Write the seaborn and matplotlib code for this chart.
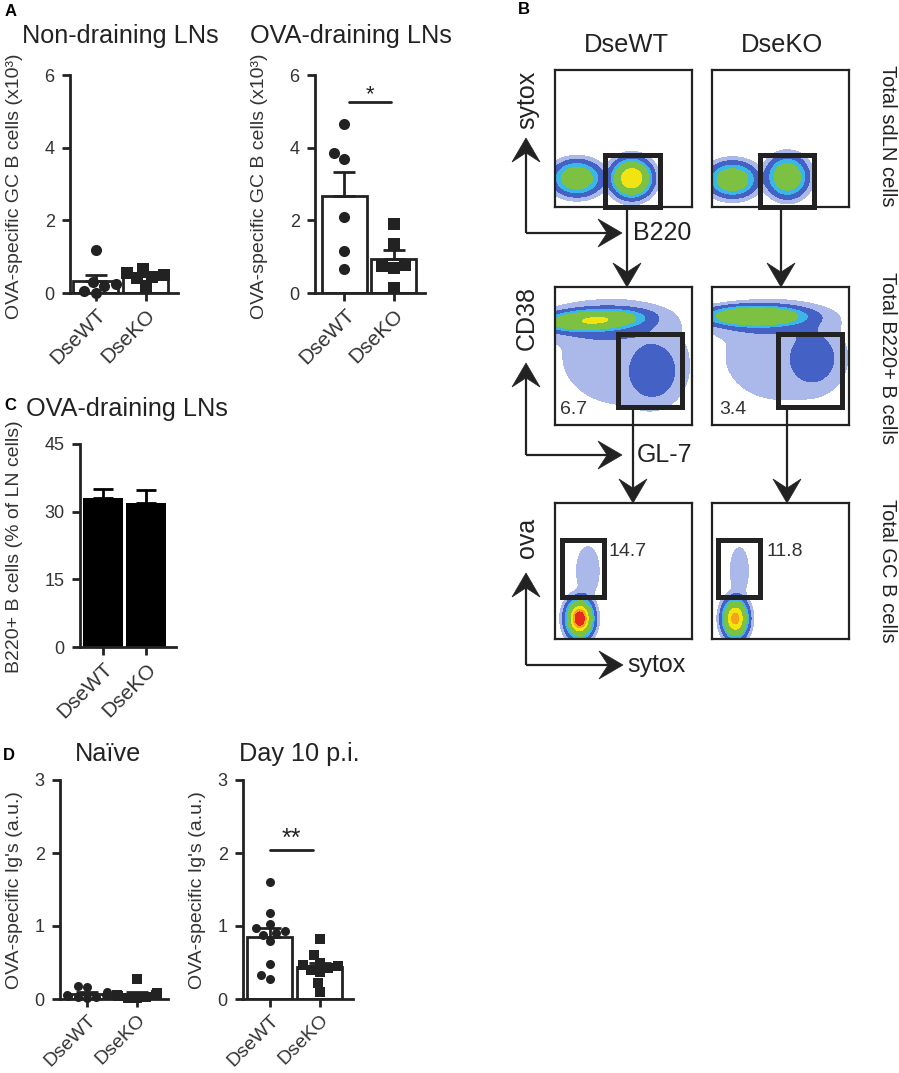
import numpy as np
import pandas as pd
import matplotlib
matplotlib.use("Agg")
import matplotlib.pyplot as plt
from matplotlib.patches import Rectangle, Polygon
import seaborn as sns

sns.set_theme(style="ticks")
plt.rcParams['font.family'] = ['Liberation Sans', 'DejaVu Sans']
INK = '#222222'

genotypes = ["DseWT", "DseKO"]

# A: OVA-specific GC B cells (x10^3)
nondrain_wt = [1.18, 0.30, 0.25, 0.20, 0.05, 0.00]
nondrain_ko = [0.65, 0.55, 0.50, 0.45, 0.40, 0.20]
drain_wt = [4.65, 3.85, 3.70, 2.10, 1.15, 0.65]
drain_ko = [1.90, 1.35, 0.78, 0.75, 0.70, 0.15]

# C: B220+ B cells (% of LN cells), mean and SEM
b220_mean = [33.0, 32.0]
b220_sem = [2.0, 2.7]

# D: OVA-specific Ig's (a.u.)
naive_wt = [0.18, 0.17, 0.10, 0.06, 0.05, 0.05, 0.04, 0.03, 0.03, 0.02]
naive_ko = [0.28, 0.08, 0.06, 0.05, 0.05, 0.04, 0.03, 0.02, 0.01]
day10_wt = [1.60, 1.18, 1.03, 0.97, 0.93, 0.90, 0.88, 0.80, 0.48, 0.33, 0.28]
day10_ko = [0.82, 0.60, 0.50, 0.47, 0.45, 0.43, 0.40, 0.37, 0.22, 0.10]

# B: flow cytometry populations (x, y, sd_x, sd_y, tilt, peak) in plot units
pops_b220_wt = [(0.16, 0.21, 0.12, 0.085, 0, 0.60), (0.56, 0.21, 0.10, 0.095, 0, 0.90)]
pops_b220_ko = [(0.15, 0.20, 0.12, 0.085, 0, 0.60), (0.55, 0.22, 0.10, 0.10, 0, 0.62)]
pops_gl7_wt = [(0.27, 0.76, 0.25, 0.05, 3, 0.60), (0.33, 0.74, 0.30, 0.09, 0, 0.15),
               (0.50, 0.50, 0.38, 0.30, 0, 0.07), (0.72, 0.38, 0.13, 0.15, 0, 0.15)]
pops_gl7_ko = [(0.31, 0.79, 0.25, 0.05, 0, 0.60), (0.40, 0.76, 0.30, 0.08, 0, 0.14),
               (0.50, 0.50, 0.38, 0.30, 0, 0.06), (0.74, 0.48, 0.13, 0.14, 0, 0.15)]
pops_ova_wt = [(0.18, 0.15, 0.07, 0.10, 0, 1.00), (0.24, 0.50, 0.06, 0.13, 0, 0.10)]
pops_ova_ko = [(0.17, 0.15, 0.065, 0.10, 0, 0.92), (0.20, 0.50, 0.05, 0.13, 0, 0.09)]

# gates (x0, y0, x1, y1) and gate frequencies
gates_b220 = [(0.365, 0.0, 0.766, 0.38), (0.35, 0.0, 0.745, 0.38)]
gates_gl7 = [(0.46, 0.13, 0.93, 0.66), (0.48, 0.13, 0.95, 0.66)]
gates_ova = [(0.05, 0.31, 0.36, 0.73), (0.045, 0.31, 0.35, 0.73)]
pct_gl7 = ["6.7", "3.4"]
pct_ova = ["14.7", "11.8"]

DENS_LEVELS = [0.04, 0.13, 0.30, 0.45, 0.78, 0.90, 0.96, 5]
DENS_COLORS = ['#aab8ea', '#4461c6', '#3cb6e6', '#7cc142', '#f2e313', '#f7a21b', '#e8291c']

W, H = 899, 1073
fig = plt.figure(figsize=(W / 100, H / 100), dpi=100)


def px_axes(left, top, right, bottom):
    return fig.add_axes([left / W, 1 - bottom / H, (right - left) / W, (bottom - top) / H])


def style_axis(ax, ymax, yticks, xlim, xsize=15):
    ax.set_ylim(0, ymax)
    ax.set_yticks(yticks)
    ax.set_xlim(*xlim)
    sns.despine(ax=ax)
    for s in ['left', 'bottom']:
        ax.spines[s].set_linewidth(2)
        ax.spines[s].set_color(INK)
    ax.tick_params(width=2, length=6, color=INK, labelcolor='#333333')
    ax.tick_params(axis='y', labelsize=13, pad=5)
    ax.tick_params(axis='x', labelsize=xsize, pad=3)
    ax.set_xticks([0, 1])
    ax.set_xticklabels(genotypes, rotation=45, ha='right', rotation_mode='anchor')
    ax.set_xlabel('')
    ax.set_ylabel('')


def dot_bar(ax, wt, ko, msize):
    df = pd.DataFrame({'genotype': ['DseWT'] * len(wt) + ['DseKO'] * len(ko),
                       'value': wt + ko})
    sns.barplot(data=df, x='genotype', y='value', order=genotypes, errorbar=None,
                color='white', edgecolor=INK, linewidth=2, width=0.9, saturation=1, ax=ax)
    stats = df.groupby('genotype')['value'].agg(['mean', 'sem']).reindex(genotypes)
    ax.errorbar([0, 1], stats['mean'], yerr=[np.zeros(2), stats['sem']], fmt='none',
                ecolor=INK, elinewidth=2, capsize=8, capthick=2, zorder=3)
    sns.swarmplot(data=df[df.genotype == 'DseWT'], x='genotype', y='value', order=genotypes,
                  marker='o', color=INK, size=msize, ax=ax, zorder=4, clip_on=False)
    sns.swarmplot(data=df[df.genotype == 'DseKO'], x='genotype', y='value', order=genotypes,
                  marker='s', color=INK, size=msize, ax=ax, zorder=4, clip_on=False)


# ---- panel A ----
ax = px_axes(70, 75, 178, 293)
dot_bar(ax, nondrain_wt, nondrain_ko, 8)
style_axis(ax, 6, [0, 2, 4, 6], (-0.51, 1.65))

ax = px_axes(315, 75, 425, 293)
dot_bar(ax, drain_wt, drain_ko, 8)
style_axis(ax, 6, [0, 2, 4, 6], (-0.60, 1.64))
ax.plot([0.09, 0.95], [5.26, 5.26], color=INK, lw=2)
ax.text(0.52, 5.30, '*', ha='center', va='baseline', fontsize=16, color=INK)

# ---- panel C ----
ax = px_axes(80, 444, 176, 647)
sns.barplot(x=genotypes, y=b220_mean, color='black', saturation=1, width=0.93,
            edgecolor='none', ax=ax)
ax.errorbar([0, 1], b220_mean, yerr=[np.zeros(2), b220_sem], fmt='none', ecolor='black',
            elinewidth=2, capsize=7, capthick=2, zorder=3)
style_axis(ax, 45, [0, 15, 30, 45], (-0.535, 1.70))

# ---- panel D ----
ax = px_axes(60, 780, 168, 999)
dot_bar(ax, naive_wt, naive_ko, 6.5)
style_axis(ax, 3, [0, 1, 2, 3], (-0.54, 1.62), xsize=14)

ax = px_axes(243, 780, 353, 999)
dot_bar(ax, day10_wt, day10_ko, 6.5)
style_axis(ax, 3, [0, 1, 2, 3], (-0.54, 1.66), xsize=14)
ax.plot([0.0, 0.86], [2.04, 2.04], color=INK, lw=2)
ax.text(0.43, 2.10, '**', ha='center', va='baseline', fontsize=18, color=INK)


# ---- panel B ----
def flow_box(rect, pops, gate, pct=None, pct_xy=None):
    ax = px_axes(*rect)
    gx, gy = np.meshgrid(np.linspace(0, 1, 300), np.linspace(0, 1, 300))
    dens = np.zeros_like(gx)
    for cx, cy, sx, sy, tilt, peak in pops:
        t = np.deg2rad(tilt)
        u = ((gx - cx) * np.cos(t) + (gy - cy) * np.sin(t)) / sx
        v = (-(gx - cx) * np.sin(t) + (gy - cy) * np.cos(t)) / sy
        dens += peak * np.exp(-((u ** 2 + v ** 2) / 2) ** 1.5)
    ax.contourf(gx, gy, dens, levels=DENS_LEVELS, colors=DENS_COLORS)
    ax.set_xlim(0, 1)
    ax.set_ylim(0, 1)
    ax.set_xticks([])
    ax.set_yticks([])
    for s in ax.spines.values():
        s.set_visible(True)
        s.set_linewidth(1.6)
        s.set_color(INK)
    x0, y0, x1, y1 = gate
    ax.add_patch(Rectangle((x0, y0), x1 - x0, y1 - y0, fill=False, lw=3.6, ec=INK,
                           clip_on=False, zorder=5, joinstyle='miter'))
    if pct is not None:
        ax.text(pct_xy[0], pct_xy[1], pct, fontsize=14, color='#333333',
                ha='left', va='center', zorder=6)


flow_box((555, 70, 692, 207), pops_b220_wt, gates_b220[0])
flow_box((712, 70, 849, 207), pops_b220_ko, gates_b220[1])
flow_box((555, 287, 692, 425), pops_gl7_wt, gates_gl7[0], pct_gl7[0], (0.04, 0.11))
flow_box((712, 287, 849, 425), pops_gl7_ko, gates_gl7[1], pct_gl7[1], (0.05, 0.11))
flow_box((555, 503, 692, 639), pops_ova_wt, gates_ova[0], pct_ova[0], (0.39, 0.64))
flow_box((712, 503, 849, 639), pops_ova_ko, gates_ova[1], pct_ova[1], (0.40, 0.64))

# overlay in pixel coordinates for arrows and labels
ov = fig.add_axes([0, 0, 1, 1], facecolor='none')
ov.set_xlim(0, W)
ov.set_ylim(H, 0)
ov.axis('off')


def arrow(x0, y0, x1, y1, head_len=24, head_w=28):
    d = np.array([x1 - x0, y1 - y0], float)
    u = d / np.hypot(*d)
    n = np.array([-u[1], u[0]])
    tip = np.array([x1, y1], float)
    back = tip - u * head_len
    notch = tip - u * head_len * 0.62
    ov.plot([x0, notch[0]], [y0, notch[1]], color=INK, lw=1.6, solid_capstyle='butt')
    ov.add_patch(Polygon([tip, back + n * head_w / 2, notch, back - n * head_w / 2],
                         closed=True, fc=INK, ec=INK, lw=0.5))


for x, y_top, y_end in [(627, 207, 287), (781, 207, 287), (633, 407, 503), (787, 407, 503)]:
    arrow(x, y_top, x, y_end)

for cy, ty, tx in [(233, 138, 622), (455, 363, 622), (665, 573, 623)]:
    arrow(526, cy, 526, ty)
    arrow(526, cy, tx, cy)

lab = dict(fontsize=18, color=INK)
ov.text(527, 100, 'sytox', rotation=90, ha='center', va='center', **lab)
ov.text(633, 233, 'B220', ha='left', va='center', **lab)
ov.text(527, 318, 'CD38', rotation=90, ha='center', va='center', **lab)
ov.text(637, 455, 'GL-7', ha='left', va='center', **lab)
ov.text(527, 538, 'ova', rotation=90, ha='center', va='center', **lab)
ov.text(627, 665, 'sytox', ha='left', va='center', **lab)

ov.text(626, 45, 'DseWT', ha='center', va='center', fontsize=18.4, color=INK)
ov.text(782, 45, 'DseKO', ha='center', va='center', fontsize=18.4, color=INK)
for yc, txt in [(136, 'Total sdLN cells'), (358, 'Total B220+ B cells'), (571, 'Total GC B cells')]:
    ov.text(887, yc, txt, rotation=270, ha='center', va='center', fontsize=14.5, color=INK)

# panel letters, titles and y labels
for x, y, letter in [(11, 11, 'A'), (524, 9, 'B'), (10, 405, 'C'), (9, 755, 'D')]:
    ov.text(x, y, letter, ha='center', va='center', fontsize=12, fontweight='bold', color='black')

tkw = dict(ha='center', va='baseline', fontsize=18.2, color=INK)
ov.text(120, 43, 'Non-draining LNs', **tkw)
ov.text(351, 43, 'OVA-draining LNs', **tkw)
ov.text(127, 416, 'OVA-draining LNs', **tkw)
ov.text(108, 761, 'Naïve', **tkw)
ov.text(299, 761, 'Day 10 p.i.', **tkw)

ykw = dict(rotation=90, ha='center', va='center', fontsize=14, color='#333333')
ov.text(15, 186, 'OVA-specific GC B cells (x10³)', **ykw)
ov.text(260, 186, 'OVA-specific GC B cells (x10³)', **ykw)
ov.text(15, 547, 'B220+ B cells (% of LN cells)', **ykw)
ov.text(15, 890, "OVA-specific Ig's (a.u.)", **ykw)
ov.text(197, 890, "OVA-specific Ig's (a.u.)", **ykw)

fig.savefig('out.png', dpi=100)
